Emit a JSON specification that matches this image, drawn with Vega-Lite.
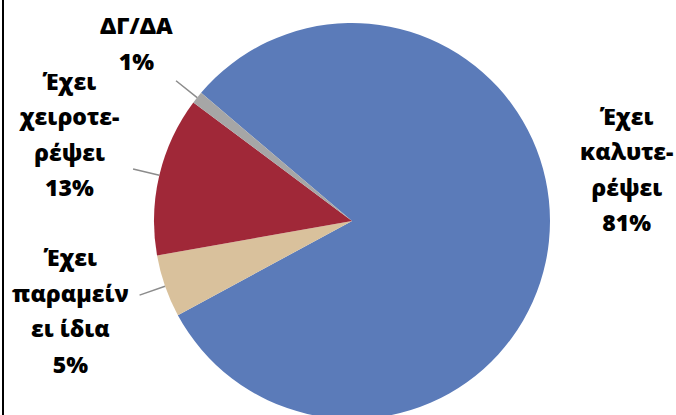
{
  "$schema": "https://vega.github.io/schema/vega-lite/v6.json",
  "autosize": "none",
  "width": 698,
  "height": 448,
  "padding": {"left": 3, "top": -3, "right": 0, "bottom": 0},
  "background": "white",
  "view": {"stroke": "black", "strokeWidth": 2},
  "data": {
    "values": [
      {"category": "Έχει καλυτερέψει", "rank": 1, "value": 80.9, "label": "Έχει\nκαλυτε-\nρέψει\n81%"},
      {"category": "Έχει παραμείνει ίδια", "rank": 2, "value": 5.1, "label": "Έχει\nπαραμείν\nει ίδια\n5%"},
      {"category": "Έχει χειροτερέψει", "rank": 3, "value": 13.0, "label": "Έχει\nχειροτε-\nρέψει\n13%"},
      {"category": "ΔΓ/ΔΑ", "rank": 4, "value": 1.0, "label": "ΔΓ/ΔΑ\n1%"}
    ]
  },
  "encoding": {
    "theta": {"field": "value", "type": "quantitative", "stack": true, "scale": {"range": [5.4166, 11.6998]}},
    "order": {"field": "rank", "type": "quantitative"},
    "detail": {"field": "category", "type": "nominal"}
  },
  "layer": [
    {
      "mark": {"type": "arc", "outerRadius": 198},
      "encoding": {
        "color": {
          "field": "category",
          "type": "nominal",
          "scale": {
            "domain": ["Έχει καλυτερέψει", "Έχει παραμείνει ίδια", "Έχει χειροτερέψει", "ΔΓ/ΔΑ"],
            "range": ["#5B7BB9", "#D9C19C", "#A02838", "#A6A6A6"]
          },
          "legend": null
        }
      }
    },
    {
      "mark": {"type": "arc", "radius": 225, "radius2": 198, "padAngle": 3, "fillOpacity": 0, "stroke": "#8C8C8C", "strokeWidth": 1.5},
      "encoding": {
        "strokeOpacity": {"condition": {"test": "datum.rank === 1", "value": 0}, "value": 1}
      }
    },
    {
      "mark": {"type": "text", "radius": 240, "dx": 36, "dy": -128, "align": "center", "baseline": "middle", "lineBreak": "\n", "font": "Open Sans", "fontWeight": 800, "fontSize": 23, "lineHeight": 35.5, "color": "black"},
      "encoding": {"text": {"condition": {"test": "datum.rank === 1", "field": "label"}, "value": ""}}
    },
    {
      "mark": {"type": "text", "radius": 240, "dx": -55, "dy": -41, "align": "center", "baseline": "middle", "lineBreak": "\n", "font": "Open Sans", "fontWeight": 800, "fontSize": 23, "lineHeight": 35.5, "color": "black"},
      "encoding": {"text": {"condition": {"test": "datum.rank === 2", "field": "label"}, "value": ""}}
    },
    {
      "mark": {"type": "text", "radius": 240, "dx": -49, "dy": -83, "align": "center", "baseline": "middle", "lineBreak": "\n", "font": "Open Sans", "fontWeight": 800, "fontSize": 23, "lineHeight": 35.5, "color": "black"},
      "encoding": {"text": {"condition": {"test": "datum.rank === 3", "field": "label"}, "value": ""}}
    },
    {
      "mark": {"type": "text", "radius": 240, "dx": -28, "dy": -44, "align": "center", "baseline": "middle", "lineBreak": "\n", "font": "Open Sans", "fontWeight": 800, "fontSize": 23, "lineHeight": 35.5, "color": "black"},
      "encoding": {"text": {"condition": {"test": "datum.rank === 4", "field": "label"}, "value": ""}}
    }
  ]
}
